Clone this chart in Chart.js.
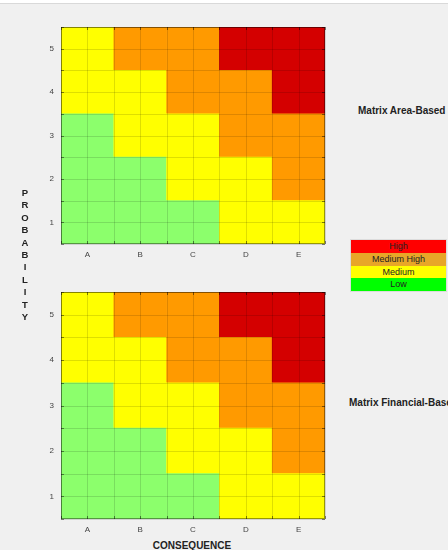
<!DOCTYPE html>
<html><head><meta charset="utf-8">
<script src="https://cdn.jsdelivr.net/npm/chart.js@4/dist/chart.umd.min.js"></script>
<style>
html,body{margin:0;padding:0;background:#f0f0f0;width:448px;height:550px;overflow:hidden;font-family:"Liberation Sans",Arial,sans-serif;}
#topbar{position:absolute;left:0;top:0;width:448px;height:3px;background:#fff;border-bottom:1px solid #d9d9d9;}
.cv{position:absolute;left:0;}
#prob{position:absolute;left:19px;top:187px;width:12px;text-align:center;font-weight:bold;font-size:9.5px;line-height:12.4px;color:#222;}
.mtitle{position:absolute;font-weight:bold;font-size:10px;line-height:12px;color:#222;white-space:nowrap;}
#legend{position:absolute;left:351px;top:240px;width:95px;box-shadow:0 0 0 1px #dcdcdc;}
#legend div{height:12.75px;line-height:12.75px;text-align:center;font-size:9px;color:#222;}
</style></head>
<body>
<div id="topbar"></div>
<canvas id="c1" class="cv" style="top:0px"></canvas>
<canvas id="c2" class="cv" style="top:265px"></canvas>
<div id="prob"></div>
<div class="mtitle" style="left:358px;top:105px">Matrix Area-Based</div>
<div class="mtitle" style="left:349px;top:397px">Matrix Financial-Based</div>
<div class="mtitle" style="left:92px;width:200px;text-align:center;top:540px">CONSEQUENCE</div>
<div id="legend"></div>
<script>
const consequences = ['A','B','C','D','E'];
const probabilities = [1,2,3,4,5];
const yAxisTitle = 'PROBABILITY';
const levelNames = ['High','Medium High','Medium','Low'];
const legendColors = ['#ff0000','#e8a628','#ffff00','#00ff00'];
const cellColors = {'High':'#d40000','Medium High':'#ff9a00','Medium':'#ffff00','Low':'#8cff6c'};
// rows: probability 1..5, columns: consequence A..E
const areaMatrix = [
  ['Low','Low','Low','Medium','Medium'],
  ['Low','Low','Medium','Medium','Medium High'],
  ['Low','Medium','Medium','Medium High','Medium High'],
  ['Medium','Medium','Medium High','Medium High','High'],
  ['Medium','Medium High','Medium High','High','High']
];
const financialMatrix = [
  ['Low','Low','Low','Medium','Medium'],
  ['Low','Low','Medium','Medium','Medium High'],
  ['Low','Medium','Medium','Medium High','Medium High'],
  ['Medium','Medium','Medium High','Medium High','High'],
  ['Medium','Medium High','Medium High','High','High']
];

document.getElementById('prob').innerHTML = yAxisTitle.split('').map(c=>'<div>'+c+'</div>').join('');
document.getElementById('legend').innerHTML = levelNames.map((n,i)=>'<div style="background:'+legendColors[i]+'">'+n+'</div>').join('');

const overlay = {
  id:'overlay',
  afterDatasetsDraw(chart){
    const {ctx, chartArea:a, scales:{x,y}} = chart;
    const xs = [];
    for (let k=0; k<=consequences.length*2; k++) xs.push(Math.round(x.getPixelForValue(k*0.5-0.5))+0.5);
    const ys = y.ticks.map(t=>Math.round(y.getPixelForValue(t.value))+0.5);
    ctx.save();
    ctx.lineWidth = 1;
    ctx.strokeStyle = 'rgba(0,0,0,0.13)';
    ctx.beginPath();
    xs.forEach(px=>{ctx.moveTo(px,a.top); ctx.lineTo(px,a.bottom);});
    ys.forEach(py=>{ctx.moveTo(a.left,py); ctx.lineTo(a.right,py);});
    ctx.stroke();
    ctx.strokeStyle = 'rgba(0,0,0,0.45)';
    ctx.beginPath();
    ys.forEach(py=>{ctx.moveTo(a.left,py); ctx.lineTo(a.left+3,py); ctx.moveTo(a.right,py); ctx.lineTo(a.right-3,py);});
    xs.forEach(px=>{ctx.moveTo(px,a.bottom); ctx.lineTo(px,a.bottom-3); ctx.moveTo(px,a.top); ctx.lineTo(px,a.top+3);});
    ctx.stroke();
    ctx.strokeStyle = 'rgba(0,0,0,0.4)';
    ctx.strokeRect(Math.round(a.left)+0.5, Math.round(a.top)+0.5, Math.round(a.right-a.left)-1, Math.round(a.bottom-a.top)-1);
    ctx.restore();
  }
};

function makeChart(id, matrix, w, h, chartBottom){
  const cv = document.getElementById(id);
  cv.width = w; cv.height = h; cv.style.width = w+'px'; cv.style.height = h+'px';
  const datasets = probabilities.map((p,ri)=>({
    data: consequences.map(()=>[p-0.5,p+0.5]),
    backgroundColor: matrix[ri].map(l=>cellColors[l]),
    borderWidth:0, grouped:false, barPercentage:1, categoryPercentage:1
  }));
  return new Chart(cv, {
    type:'bar',
    data:{labels:consequences, datasets},
    options:{
      responsive:false, animation:false, devicePixelRatio:1,
      layout:{padding:{top:27,right:15,left:0,bottom:0}},
      plugins:{legend:{display:false},tooltip:{enabled:false}},
      scales:{
        x:{type:'category',offset:true,
           grid:{display:false,drawTicks:false}, border:{display:false},
           afterFit(s){s.height = h-chartBottom;},
           ticks:{maxRotation:0,padding:6,color:'#444',
             font:{family:'Liberation Sans',size:8}}},
        y:{type:'linear',min:0.5,max:5.5,
           grid:{display:false,drawTicks:false}, border:{display:false},
           afterFit(s){s.width = 61;},
           ticks:{stepSize:0.5,autoSkip:false,padding:7,color:'#444',
             font:{family:'Liberation Sans',size:8},
             callback:v=>Number.isInteger(v)?String(v):''}}
      }
    },
    plugins:[overlay]
  });
}
makeChart('c1', areaMatrix, 340, 265, 244);
makeChart('c2', financialMatrix, 340, 275, 254);
</script>
</body></html>
